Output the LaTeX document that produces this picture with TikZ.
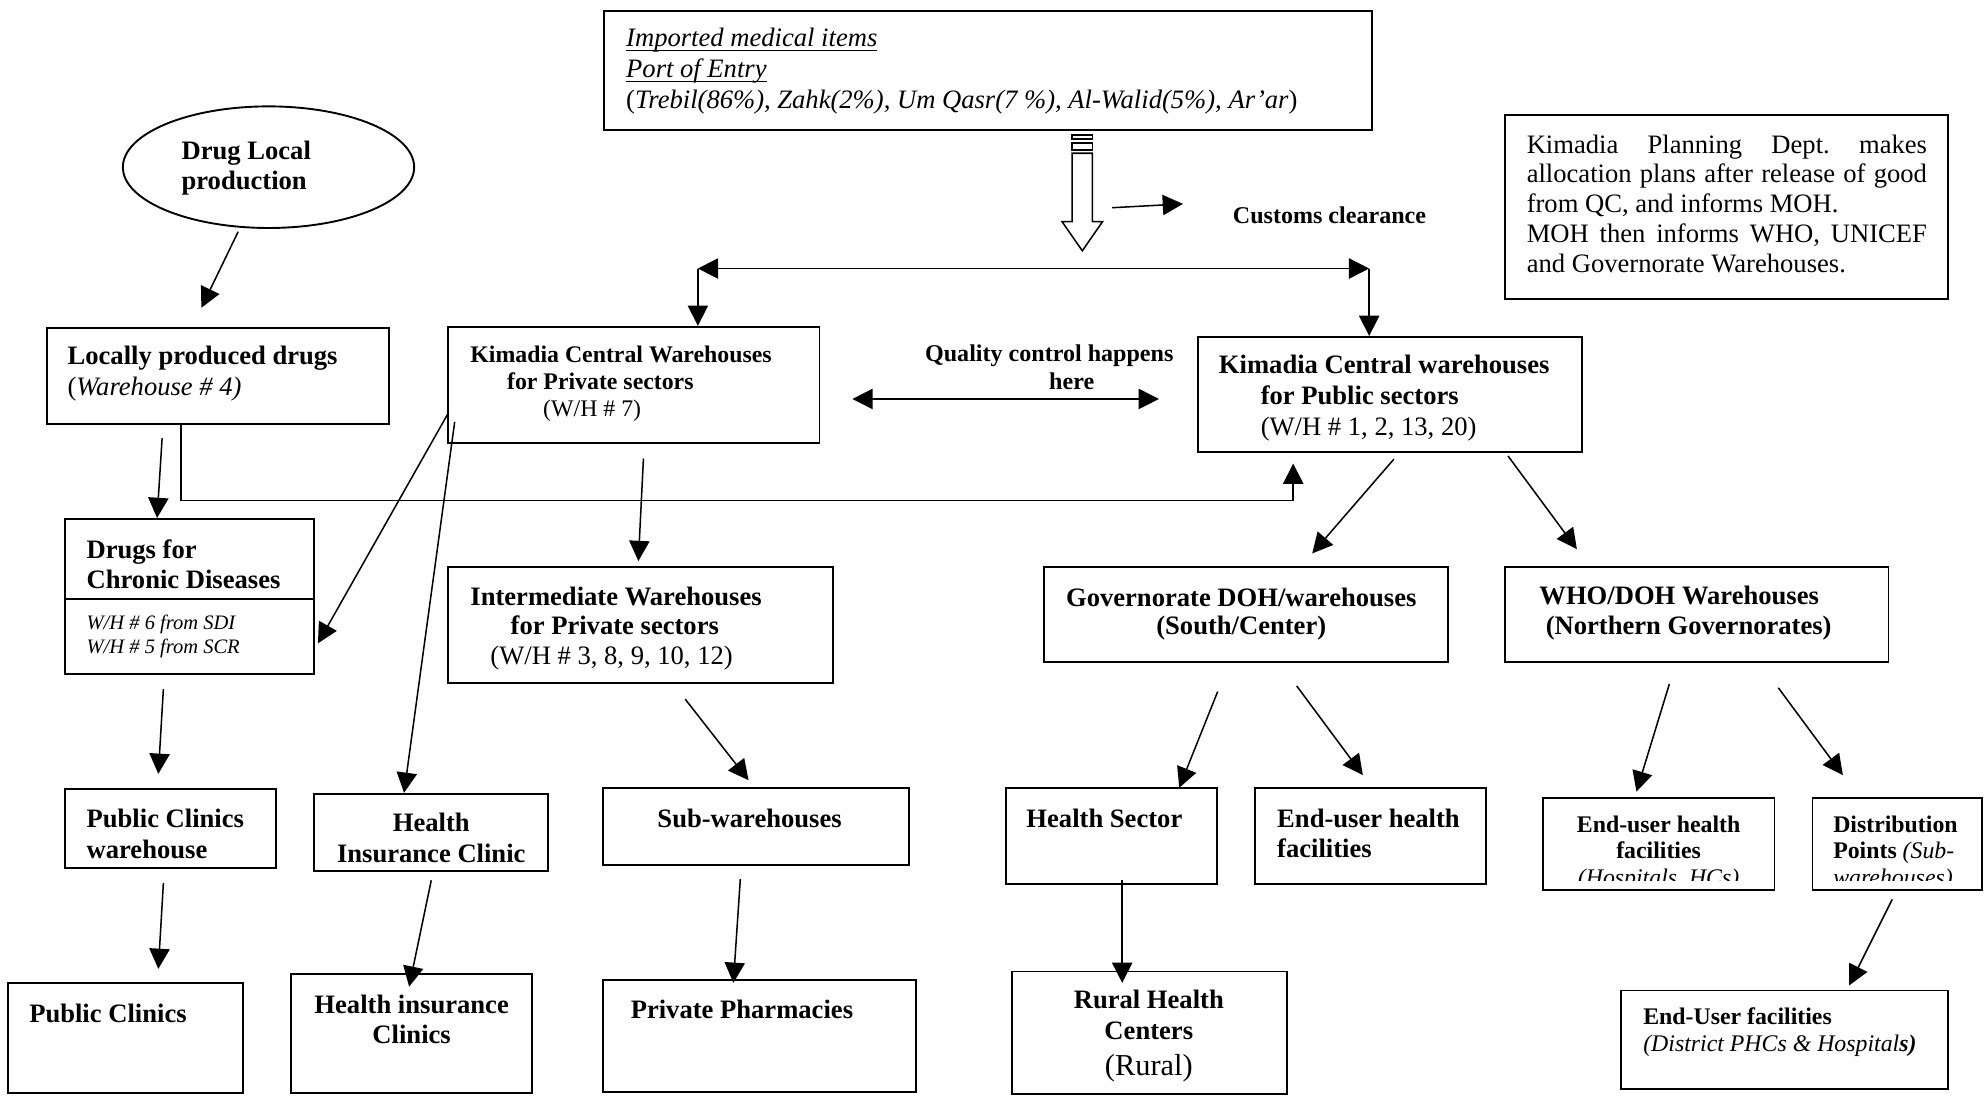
\documentclass[tikz,border=0pt]{standalone}
\usepackage{fontspec}
\setmainfont{Liberation Serif}
\usetikzlibrary{arrows.meta,shapes.geometric,fit}
\newlength\plw
\setlength\plw{158pt}
\newcommand\myul[1]{\setbox0\hbox{#1}\rlap{\rule[-1.7pt]{\wd0}{0.5pt}}\box0}
\frenchspacing
\begin{document}
\begin{tikzpicture}[x=0.5pt,y=-0.5pt,
  box/.style={draw, line width=0.75pt, inner sep=0pt},
  arr/.style={line width=0.6pt, -{Triangle[length=8pt,width=8pt]}},
  dbl/.style={line width=0.6pt, {Triangle[length=8pt,width=8pt]}-{Triangle[length=8pt,width=8pt]}},
  tA/.style={inner sep=0pt, anchor=north west, align=left, font=\fontsize{10.5}{12}\selectfont},
  tB/.style={tA, font=\fontsize{10.5}{12}\selectfont\bfseries},
]
\useasboundingbox (0,0) rectangle (1568,865);

% ---------- top: imported items ----------
\node[box, fit={(477,9) (1083,103)}] (imp) {};
\node[tA, font=\fontsize{10.5}{12.25}\selectfont\itshape] (impT) at (494,21.9)
 {\myul{Imported medical items}\\\myul{Port of Entry}\\\textup{(}Trebil(86\%), Zahk(2\%), Um Qasr(7 \%), Al-Walid(5\%), Ar’ar\textup{)}};

% hollow block arrow below the top box
\begin{scope}[shift={(854.5,103)}, line width=0.6pt]
  \draw (-8,3.6) rectangle (8,6.7);
  \draw (-8,10) rectangle (8,15.4);
  \draw (-8,18) -- (-8,72) -- (-16,72) -- (0,95) -- (16,72) -- (8,72) -- (8,18) -- cycle;
\end{scope}

% customs clearance
\node[tA, font=\fontsize{9.5}{11}\selectfont\bfseries] (cust) at (973,162.6) {Customs clearance};
\coordinate (cs1) at (878,164);
\coordinate (cs2) at (934,161);
\draw[arr] (cs1) -- (cs2);

% planning note
\node[box, fit={(1188,91) (1538,236)}] (plan) {};
\node[tA, font=\fontsize{10.5}{11.75}\selectfont] (planT) at (1205,106)
 {\makebox[\plw][s]{Kimadia Planning Dept. makes}\\\makebox[\plw][s]{allocation plans after release of good}\\from QC, and informs MOH.\\\makebox[\plw][s]{MOH then informs WHO, UNICEF}\\and Governorate Warehouses.};

% ---------- local production ----------
\node[draw, ellipse, line width=0.75pt, minimum width=115pt, minimum height=48pt, inner sep=0pt] (dlp) at (212,132) {};
\node[tB] (dlpT) at (143,111) {Drug Local\\production};

\node[box, fit={(37,259) (307,335)}] (lpd) {};
\node[tA] (lpdT) at (53,273) {\textbf{Locally produced drugs}\\(\textit{Warehouse \# 4)}};

% ---------- Kimadia private ----------
\node[box, fit={(354,258) (647,350)}] (kcp) {};
\node[tA, font=\fontsize{9.4}{10.75}\selectfont] (kcpT) at (371,272.6)
 {\textbf{Kimadia Central Warehouses}\\\hspace*{14.5pt}\textbf{for Private sectors}\\\hspace*{28.75pt}(W/H \# 7)};

\node[tA, font=\fontsize{9.5}{11}\selectfont\bfseries] (qcT) at (730,271.6) {Quality control happens\\\hspace*{49pt}here};

% ---------- Kimadia public ----------
\node[box, fit={(946,266) (1249,357)}] (kcu) {};
\node[tA, font=\fontsize{10.5}{12.25}\selectfont] (kcuT) at (962,280)
 {\textbf{Kimadia Central warehouses}\\\hspace*{16.5pt}\textbf{for Public sectors}\\\hspace*{16.5pt}(W/H \# 1, 2, 13, 20)};

% ---------- chronic diseases ----------
\node[box, fit={(51,410) (248,532)}] (dcd) {};
\draw[line width=0.75pt] ([yshift=-32pt]dcd.north west) -- ([yshift=-32pt]dcd.north east);
\node[tB, font=\fontsize{10.5}{12.1}\selectfont\bfseries] (dcdT) at (68,425.4) {Drugs for\\Chronic Diseases};
\node[tA, font=\fontsize{8.1}{9.4}\selectfont\itshape] (dcdS) at (68,485.3) {W/H \# 6 from SDI\\W/H \# 5 from SCR};

% ---------- intermediate ----------
\node[box, fit={(354,448) (658,539)}] (iwp) {};
\node[tA, font=\fontsize{10.5}{11.8}\selectfont] (iwpT) at (371,462.7)
 {\textbf{Intermediate Warehouses}\\\hspace*{15.9pt}\textbf{for Private sectors}\\\hspace*{7.9pt}(W/H \# 3, 8, 9, 10, 12)};

% ---------- governorate / WHO ----------
\node[box, fit={(824,448) (1143,523)}] (gov) {};
\node[tB, anchor=north, align=center, font=\fontsize{10.5}{11.4}\selectfont\bfseries] (govT) at (980,463.5) {Governorate DOH/warehouses\\(South/Center)};

\node[box, fit={(1188,448) (1491,523)}] (who) {};
\node[tB] (whoT) at (1215,462) {WHO/DOH Warehouses\\\hspace*{2.5pt}(Northern Governorates)};

% ---------- row 4 ----------
\node[box, fit={(51,623) (218,685)}] (pcw) {};
\node[tB, font=\fontsize{10.5}{12.1}\selectfont\bfseries] (pcwT) at (68,638.4) {Public Clinics\\warehouse};

\node[box, fit={(248,627) (433,688)}] (hic) {};
\node[tB, anchor=north, align=center, font=\fontsize{10.5}{12.4}\selectfont\bfseries] (hicT) at (340.5,641.5) {Health\\Insurance Clinic};

\node[box, fit={(476,622) (718,683)}] (sub) {};
\node[tB] (subT) at (518.7,638) {Sub-warehouses};

\node[box, fit={(794,622) (961,698)}] (hs) {};
\node[tB] (hsT) at (810,638) {Health Sector};

\node[box, fit={(991,622) (1173,698)}] (euh) {};
\node[tB] (euhT) at (1008,638) {End-user health\\facilities};

\node[box, fit={(1218,630) (1401,703)}] (euh2) {};
\begin{scope}
  \clip (1218,630) rectangle (1401,695);
  \node[tA, anchor=north, align=center, font=\fontsize{9.4}{10.5}\selectfont] (euh2T) at (1309.5,643.6)
   {\textbf{End-user health}\\\textbf{facilities}\\\textit{(Hospitals, HCs)}};
\end{scope}

\node[box, fit={(1431,630) (1565,703)}] (dp) {};
\begin{scope}
  \clip (1431,630) rectangle (1565,695);
  \node[tA, font=\fontsize{9.4}{10.5}\selectfont] (dpT) at (1447,643.6)
   {\textbf{Distribution}\\\textbf{Points} \textit{(Sub-}\\\textit{warehouses)}};
\end{scope}

% ---------- bottom row ----------
\node[box, fit={(6,776) (192,863)}] (pc) {};
\node[tB] (pcT) at (22.7,792.5) {Public Clinics};

\node[box, fit={(230,769) (420,863)}] (hics) {};
\node[tB, anchor=north, align=center, font=\fontsize{10.5}{12.15}\selectfont\bfseries] (hicsT) at (325,784.9) {Health insurance\\Clinics};

\node[box, fit={(476,774) (723,862)}] (pp) {};
\node[tB] (ppT) at (497.6,789) {Private Pharmacies};

\node[box, fit={(799,767) (1016,864)}] (rhc) {};
\node[tB, anchor=north, align=center] (rhcT) at (907,781.6) {Rural Health\\Centers};
\node[inner sep=0pt, anchor=north, font=\fontsize{12}{14}\selectfont] (rhcR) at (907,832.4) {(Rural)};

\node[box, fit={(1280,782) (1538,860)}] (euf) {};
\node[tA, font=\fontsize{9.4}{10.5}\selectfont] (eufT) at (1297,795.6)
 {\textbf{End-User facilities}\\\textit{(District PHCs \& Hospital\textbf{s)}}};

% ---------- connectors ----------
\coordinate (dl) at (551,212);
\coordinate (dr) at (1081,212);
\draw[dbl] (dl) -- (dr);
\draw[arr] (dl) -- (dl |- kcp.north);
\draw[arr] (dr) -- (dr |- kcu.north);

\coordinate (qcl) at (673,315);
\coordinate (qcr) at (915,315);
\draw[dbl] (qcl) -- (qcr);

\coordinate (lpdS) at (143,335);
\coordinate (kcuS) at (1021,366);
\draw[arr] (lpdS) -- (143,395) -| (kcuS);

\coordinate (a1s) at (188,183);   \coordinate (a1e) at (159,243);
\coordinate (a2s) at (128,346);   \coordinate (a2e) at (124,409);
\coordinate (a3s) at (129,544);   \coordinate (a3e) at (125,611);
\coordinate (a4s) at (129,697);   \coordinate (a4e) at (125,765);
\coordinate (a5s) at (354,326);   \coordinate (a5e) at (251,508);
\coordinate (a6s) at (359,333);   \coordinate (a6e) at (319,626);
\coordinate (a7s) at (508,362);   \coordinate (a7e) at (504,443);
\coordinate (a8s) at (541,552);   \coordinate (a8e) at (591,616);
\coordinate (a9s) at (584.5,694); \coordinate (a9e) at (579,776);
\coordinate (a10s) at (340.5,695);\coordinate (a10e) at (323,779);
\coordinate (a16s) at (1100.5,362.5); \coordinate (a16e) at (1036,437);
\coordinate (a17s) at (1190.6,360);   \coordinate (a17e) at (1245,433.6);
\coordinate (a18s) at (961.4,546);    \coordinate (a18e) at (931,622);
\coordinate (a19s) at (1023.8,541.6); \coordinate (a19e) at (1076,612);
\coordinate (a20s) at (886,694.4);    \coordinate (a20e) at (886,776);
\coordinate (a21s) at (1318,540);     \coordinate (a21e) at (1292,625);
\coordinate (a22s) at (1404,543);     \coordinate (a22e) at (1455,612);
\coordinate (a23s) at (1494,710);     \coordinate (a23e) at (1460,778);

\foreach \i in {1,...,10,16,17,18,19,20,21,22,23}
  \draw[arr] (a\i s) -- (a\i e);
\end{tikzpicture}
\end{document}
